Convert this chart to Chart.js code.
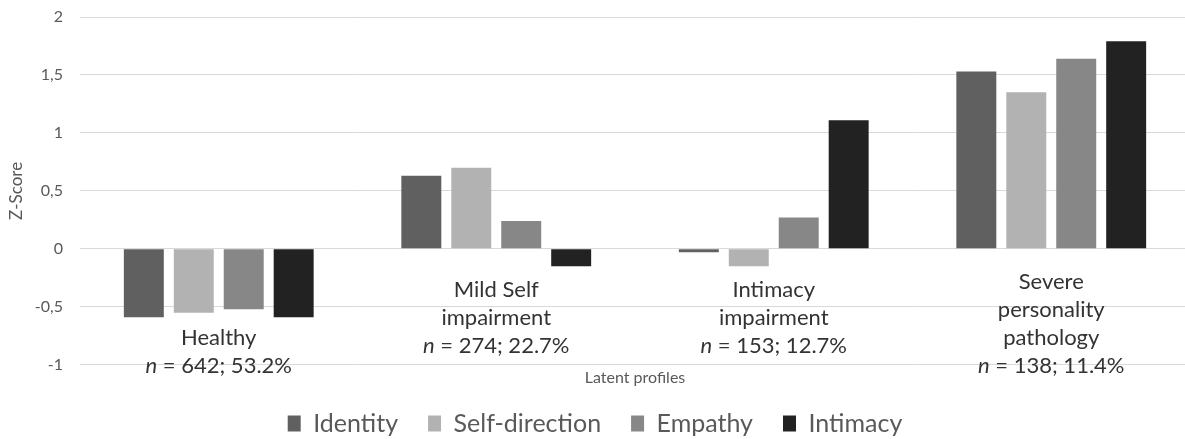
<!DOCTYPE html>
<html>
<head>
<meta charset="utf-8">
<script src="https://cdn.jsdelivr.net/npm/chart.js@4"></script>
<style>
    body { margin: 0; overflow: hidden; background: #fff; }
    #wrap { position: relative; width: 1190px; height: 446px; }
</style>
</head>
<body>
<div id="wrap"><canvas id="myChart"></canvas></div>
<script>
// Latent profiles (categories), label text split into lines
const profileLines = [
    ['Healthy'],
    ['Mild Self', 'impairment'],
    ['Intimacy', 'impairment'],
    ['Severe', 'personality', 'pathology']
];
const profileN = [642, 274, 153, 138];
const profilePct = ['53.2%', '22.7%', '12.7%', '11.4%'];

// Mean z-scores per domain
const identity      = [-0.59,  0.63, -0.03, 1.53];
const selfDirection = [-0.55,  0.70, -0.15, 1.35];
const empathy       = [-0.52,  0.24,  0.27, 1.64];
const intimacy      = [-0.59, -0.15,  1.11, 1.79];

// where the last line of each category label sits (in z units), and line gap in px
const labelBottomAt = [-1.01, -0.84, -0.84, -1.01];
const lineGap = 28;

// draws the category labels inside the plot, bottom aligned
const profileLabels = {
    id: 'profileLabels',
    afterDatasetsDraw(chart) {
        const ctx = chart.ctx;
        const xs = chart.scales.x;
        const ys = chart.scales.y;
        ctx.save();
        ctx.fillStyle = '#333333';
        ctx.textBaseline = 'middle';
        profileLines.forEach((lines, i) => {
            const cx = xs.getPixelForValue(i);
            const bottom = ys.getPixelForValue(labelBottomAt[i]);
            const count = lines.length + 1;
            ctx.font = '22px Lato';
            ctx.textAlign = 'center';
            lines.forEach((t, j) => {
                ctx.fillText(t, cx, bottom - (count - 1 - j) * lineGap);
            });
            // "n = ..." line with italic n
            const rest = ' = ' + profileN[i] + '; ' + profilePct[i];
            ctx.font = 'italic 22px Lato';
            const wn = ctx.measureText('n').width;
            ctx.font = '22px Lato';
            const wr = ctx.measureText(rest).width;
            const left = cx - (wn + wr) / 2;
            ctx.textAlign = 'left';
            ctx.font = 'italic 22px Lato';
            ctx.fillText('n', left, bottom);
            ctx.font = '22px Lato';
            ctx.fillText(rest, left + wn, bottom);
        });
        ctx.restore();
    }
};

const ctx = document.getElementById('myChart').getContext('2d');
const myChart = new Chart(ctx, {
    type: 'bar',
    data: {
        labels: profileLines.map(l => l.join(' ')),
        datasets: [
            { label: 'Identity', data: identity, backgroundColor: '#606060' },
            { label: 'Self-direction', data: selfDirection, backgroundColor: '#b2b2b2' },
            { label: 'Empathy', data: empathy, backgroundColor: '#878787' },
            { label: 'Intimacy', data: intimacy, backgroundColor: '#222222' }
        ]
    },
    options: {
        responsive: true,
        maintainAspectRatio: false,
        animation: false,
        categoryPercentage: 0.72,
        barPercentage: 0.8,
        layout: { padding: { top: 17, left: 0, right: 0, bottom: 0 } },
        scales: {
            x: {
                grid: { display: false, drawTicks: false },
                border: { display: false },
                ticks: { display: false },
                title: {
                    display: true,
                    text: 'Latent profiles',
                    color: '#595959',
                    font: { family: 'Lato', size: 16 },
                    padding: { top: 3, bottom: -6 }
                }
            },
            y: {
                min: -1,
                max: 2,
                ticks: {
                    stepSize: 0.5,
                    padding: 17,
                    color: '#595959',
                    font: { family: 'Lato', size: 16 },
                    callback: v => String(v).replace('.', ',')
                },
                grid: { color: '#d9d9d9', drawTicks: false },
                border: { display: false },
                title: {
                    display: true,
                    text: 'Z-Score',
                    color: '#595959',
                    font: { family: 'Lato', size: 17 },
                    padding: { top: 6, bottom: 0 }
                },
                afterFit: s => {
                    s.width = 80;
                    s.paddingTop = 0;
                    s.paddingBottom = 0;
                }
            }
        },
        plugins: {
            legend: {
                position: 'bottom',
                labels: {
                    boxWidth: 13,
                    boxHeight: 16,
                    padding: 30,
                    color: '#595959',
                    font: { family: 'Lato', size: 25 }
                }
            },
            tooltip: { enabled: false }
        }
    },
    plugins: [profileLabels]
});
</script>
</body>
</html>
